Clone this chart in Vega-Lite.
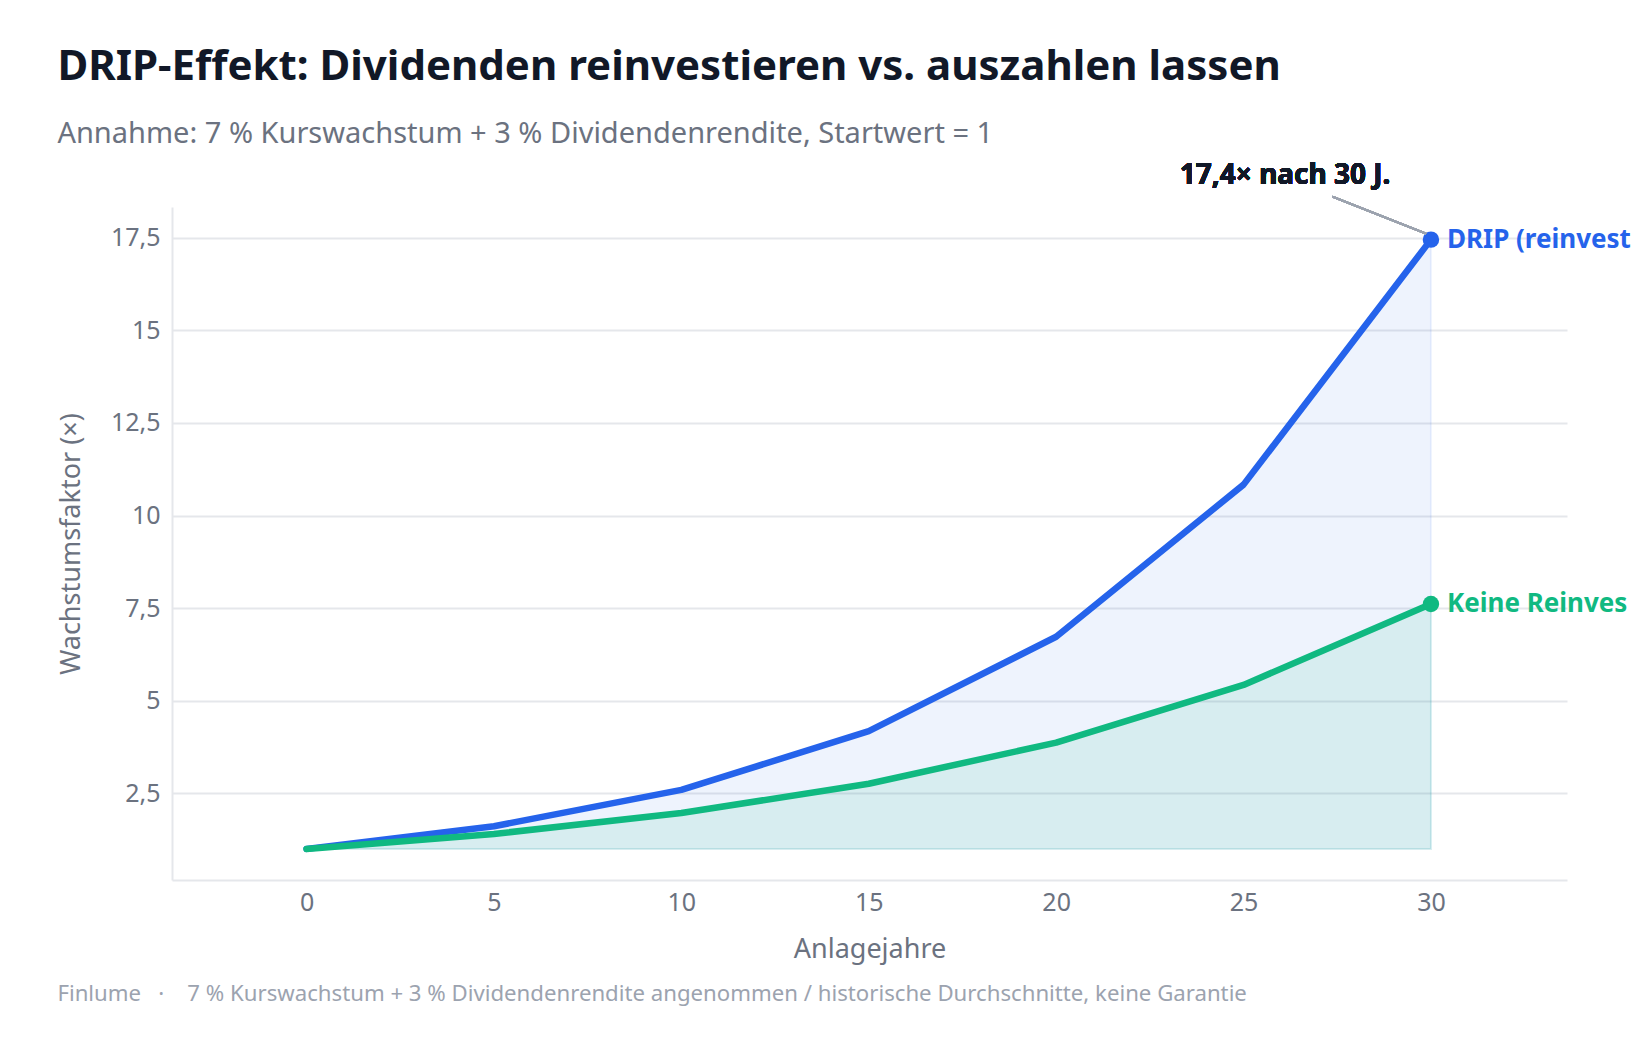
{
  "$schema": "https://vega.github.io/schema/vega-lite/v6.json",
  "autosize": {"type": "pad"},
  "padding": {"left": 57, "top": 45, "right": 0, "bottom": 20},
  "background": "white",
  "config": {"font": "Noto Sans", "view": {"stroke": null}},
  "title": {
    "text": "Finlume\u00a0\u00a0\u00a0·\u00a0\u00a0\u00a0\u00a07 % Kurswachstum + 3 % Dividendenrendite angenommen / historische Durchschnitte, keine Garantie",
    "orient": "bottom",
    "anchor": "start",
    "frame": "bounds",
    "fontSize": 22.2,
    "fontWeight": "normal",
    "color": "#9ca3af",
    "offset": 21
  },
  "vconcat": [
    {
      "width": 1395,
      "height": 673,
      "title": {
        "text": "DRIP-Effekt: Dividenden reinvestieren vs. auszahlen lassen",
        "subtitle": "Annahme: 7 % Kurswachstum + 3 % Dividendenrendite, Startwert = 1",
        "anchor": "start",
        "frame": "bounds",
        "fontSize": 42,
        "fontWeight": "bold",
        "color": "#111827",
        "subtitleFontSize": 29,
        "subtitleColor": "#6b7280",
        "subtitlePadding": 31.5,
        "offset": 11.5
      },
      "data": {
        "values": [
          {"jahr": 0, "wert": 1.0, "serie": "DRIP (reinvestiert)"},
          {"jahr": 5, "wert": 1.611, "serie": "DRIP (reinvestiert)"},
          {"jahr": 10, "wert": 2.594, "serie": "DRIP (reinvestiert)"},
          {"jahr": 15, "wert": 4.177, "serie": "DRIP (reinvestiert)"},
          {"jahr": 20, "wert": 6.727, "serie": "DRIP (reinvestiert)"},
          {"jahr": 25, "wert": 10.835, "serie": "DRIP (reinvestiert)"},
          {"jahr": 30, "wert": 17.449, "serie": "DRIP (reinvestiert)"},
          {"jahr": 0, "wert": 1.0, "serie": "Keine Reinvestition"},
          {"jahr": 5, "wert": 1.403, "serie": "Keine Reinvestition"},
          {"jahr": 10, "wert": 1.967, "serie": "Keine Reinvestition"},
          {"jahr": 15, "wert": 2.759, "serie": "Keine Reinvestition"},
          {"jahr": 20, "wert": 3.87, "serie": "Keine Reinvestition"},
          {"jahr": 25, "wert": 5.427, "serie": "Keine Reinvestition"},
          {"jahr": 30, "wert": 7.612, "serie": "Keine Reinvestition"}
        ]
      },
      "encoding": {
        "x": {
          "field": "jahr",
          "type": "quantitative",
          "scale": {"domain": [-3.59, 33.63], "nice": false, "zero": false},
          "axis": {
            "title": "Anlagejahre",
            "values": [0, 5, 10, 15, 20, 25, 30],
            "grid": false,
            "ticks": false,
            "domainColor": "#e5e7eb",
            "domainWidth": 2,
            "labelFontSize": 25,
            "labelColor": "#6b7280",
            "labelPadding": 10,
            "titleFontSize": 27,
            "titleFontWeight": "normal",
            "titleColor": "#6b7280",
            "titlePadding": 21
          }
        },
        "y": {
          "field": "wert",
          "type": "quantitative",
          "scale": {"domain": [0.16, 18.33], "nice": false, "zero": false},
          "axis": {
            "title": "Wachstumsfaktor (×)",
            "values": [2.5, 5, 7.5, 10, 12.5, 15, 17.5],
            "labelExpr": "replace(format(datum.value, '.1~f'), '.', ',')",
            "grid": true,
            "gridColor": "#e5e7eb",
            "gridWidth": 2,
            "ticks": false,
            "domainColor": "#e5e7eb",
            "domainWidth": 2,
            "labelFontSize": 25,
            "labelColor": "#6b7280",
            "labelPadding": 12,
            "titleFontSize": 27,
            "titleFontWeight": "normal",
            "titleColor": "#6b7280",
            "titlePadding": 25
          }
        }
      },
      "layer": [
        {
          "transform": [{"filter": "datum.serie === 'DRIP (reinvestiert)'"}],
          "mark": {"type": "area", "fill": "#2563eb", "fillOpacity": 0.08, "stroke": "#2563eb", "strokeOpacity": 0.08, "strokeWidth": 2},
          "encoding": {"y2": {"datum": 1}}
        },
        {
          "transform": [{"filter": "datum.serie === 'Keine Reinvestition'"}],
          "mark": {"type": "area", "fill": "#10b981", "fillOpacity": 0.1, "stroke": "#10b981", "strokeOpacity": 0.1, "strokeWidth": 2},
          "encoding": {"y2": {"datum": 1}}
        },
        {
          "mark": {"type": "line", "strokeWidth": 6.5, "strokeCap": "round", "strokeJoin": "round"},
          "encoding": {
            "color": {
              "field": "serie",
              "type": "nominal",
              "scale": {"domain": ["DRIP (reinvestiert)", "Keine Reinvestition"], "range": ["#2563eb", "#10b981"]},
              "legend": null
            }
          }
        },
        {
          "transform": [{"filter": "datum.jahr === 30"}],
          "mark": {"type": "point", "filled": true, "opacity": 1, "size": 270},
          "encoding": {
            "color": {"field": "serie", "type": "nominal", "scale": {"domain": ["DRIP (reinvestiert)", "Keine Reinvestition"], "range": ["#2563eb", "#10b981"]}, "legend": null}
          }
        },
        {
          "transform": [{"filter": "datum.jahr === 30"}],
          "mark": {"type": "text", "align": "left", "baseline": "middle", "dx": 16, "fontSize": 26, "fontWeight": "bold", "limit": 190, "ellipsis": "\u200b"},
          "encoding": {
            "text": {"field": "serie"},
            "color": {"field": "serie", "type": "nominal", "scale": {"domain": ["DRIP (reinvestiert)", "Keine Reinvestition"], "range": ["#2563eb", "#10b981"]}, "legend": null}
          }
        },
        {
          "mark": {"type": "rule", "color": "#9ca3af", "strokeWidth": 2},
          "encoding": {
            "x": {"datum": 27.37},
            "y": {"datum": 18.61},
            "x2": {"datum": 29.87},
            "y2": {"datum": 17.61}
          }
        },
        {
          "mark": {"type": "text", "align": "center", "baseline": "alphabetic", "fontSize": 28, "fontWeight": "bold", "color": "#111827"},
          "encoding": {
            "x": {"datum": 26.11},
            "y": {"datum": 18.96},
            "text": {"value": "17,4× nach 30 J."}
          }
        }
      ]
    }
  ]
}
